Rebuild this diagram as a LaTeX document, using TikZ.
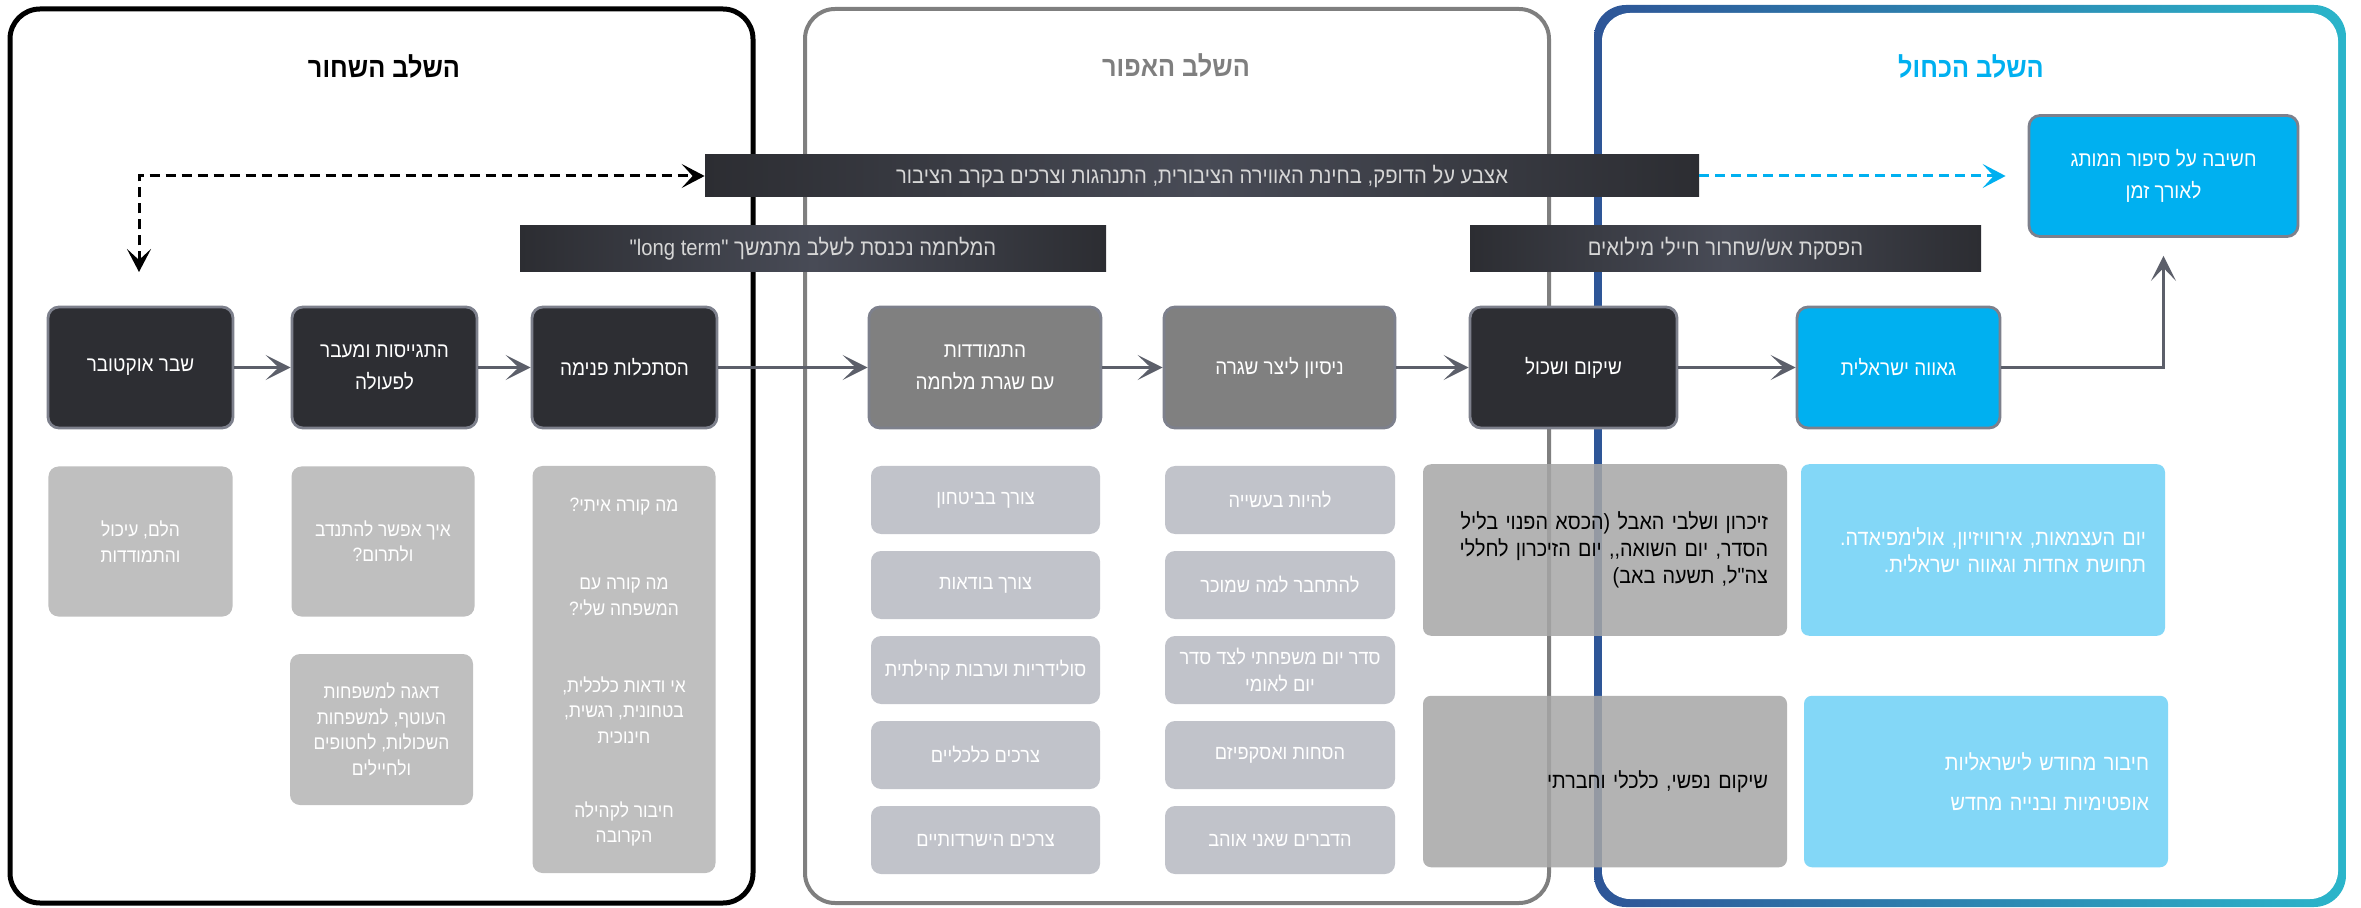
\documentclass[tikz,border=0pt]{standalone}
\usepackage{fontspec}
\usepackage{tikz}
\usetikzlibrary{arrows.meta}
\newfontfamily\hebfont[Script=Hebrew,FakeStretch=0.9]{Liberation Sans}
\TeXXeTstate=1
\newcommand{\heb}[1]{\beginR #1\endR}
\definecolor{nodedark}{HTML}{2D2E33}
\definecolor{nodegrey}{HTML}{808080}
\definecolor{nodeblue}{HTML}{00B0F0}
\definecolor{edgegrey}{HTML}{7D808C}
\definecolor{arrowgrey}{HTML}{5C5F6A}
\definecolor{subgrey}{HTML}{BFBFBF}
\definecolor{subslate}{HTML}{C1C3CA}
\definecolor{boxgrey}{HTML}{A6A6A6}
\definecolor{boxblue}{HTML}{83D7F7}
\definecolor{framegrey}{HTML}{7F7F7F}
\definecolor{frameblueA}{HTML}{2E5597}
\definecolor{frameblueB}{HTML}{2BB5CA}
\definecolor{bandark}{HTML}{2C2D32}
\definecolor{banmid}{HTML}{484B56}
\definecolor{bantext}{HTML}{D6D6D6}

\begin{document}
\begin{tikzpicture}[x=0.2mm, y=-0.2mm,
  >={Stealth[length=5mm,width=5mm,inset=2.6mm]},
  title/.style={font=\hebfont\bfseries\fontsize{16}{19}\selectfont},
  stage/.style={draw=edgegrey, line width=1.6pt, rounded corners=2.2mm, minimum height=24.2mm,
    text=white, align=center, font=\hebfont\fontsize{12}{18.5}\selectfont},
  banner/.style={left color=bandark, right color=bandark, middle color=banmid, text=bantext,
    font=\hebfont\fontsize{12.8}{15}\selectfont},
  sub/.style={fill=subgrey, rounded corners=2mm, text=white, align=center,
    font=\hebfont\fontsize{11}{14.5}\selectfont},
  subtext/.style={text=white, align=center, font=\hebfont\fontsize{11}{14.5}\selectfont},
  need/.style={fill=subslate, rounded corners=2mm, text=white, align=center,
    minimum height=13.6mm, font=\hebfont\fontsize{11.5}{15}\selectfont},
  bigbox/.style={rounded corners=1.6mm, align=right, inner xsep=3.8mm, text width=65.2mm,
    minimum height=34.3mm, font=\hebfont\fontsize{12.5}{15.2}\selectfont},
  flow/.style={->, line width=2.2pt, arrowgrey},
  dashline/.style={line width=0.6mm, dash pattern=on 2mm off 1.2mm,
    >={Stealth[length=4.6mm,width=4.8mm,inset=2.2mm]}}]
\useasboundingbox (0,0) rectangle (2361,908);

\draw[line width=1mm, rounded corners=6mm] (10,9) rectangle (753,903);
\draw[framegrey, line width=0.8mm, rounded corners=6mm] (805,9) rectangle (1549,903);
\shade[left color=frameblueA, right color=frameblueB, rounded corners=6.4mm] (1594,5) rectangle (2346,907);
\fill[white, rounded corners=5.6mm] (1602,13) rectangle (2338,899);

\node[title] (tblack) at (384,66) {\heb{השלב השחור}};
\node[title, text=framegrey] (tgrey) at (1176,65) {\heb{השלב האפור}};
\node[title, text=nodeblue] (tblue) at (1971,66) {\heb{השלב הכחול}};

\node[banner, minimum width=198.8mm, minimum height=8.4mm] (pulse) at (1202,176)
  {\heb{אצבע על הדופק, בחינת האווירה הציבורית, התנהגות וצרכים בקרב הציבור}};
\node[banner, minimum width=117.2mm, minimum height=9.2mm] (longterm) at (813,248.5)
  {\heb{המלחמה נכנסת לשלב מתמשך \beginL"long term"\endL}};
\node[banner, minimum width=102.2mm, minimum height=9.2mm] (ceasefire) at (1725.5,248.5)
  {\heb{הפסקת אש/שחרור חיילי מילואים}};

\node[stage, fill=nodedark, minimum width=37mm] (october) at (140.5,367.5) {\heb{שבר אוקטובר}};
\node[stage, fill=nodedark, minimum width=37mm] (enlist) at (384.5,367.5) {\heb{התגייסות ומעבר}\\\heb{לפעולה}};
\node[stage, fill=nodedark, minimum width=37mm] (inward) at (624.5,367.5) {\heb{הסתכלות פנימה}};
\node[stage, fill=nodegrey, minimum width=46.4mm] (cope) at (985,367.5) {\heb{התמודדות}\\\heb{עם שגרת מלחמה}};
\node[stage, fill=nodegrey, minimum width=46.2mm] (routine) at (1279.5,367.5) {\heb{ניסיון ליצר שגרה}};
\node[stage, fill=nodedark, minimum width=41.4mm] (rehab) at (1573.5,367.5) {\heb{שיקום ושכול}};
\node[stage, fill=nodeblue, minimum width=40.6mm] (pride) at (1898.5,367.5) {\heb{גאווה ישראלית}};
\node[stage, fill=nodeblue, minimum width=53.8mm] (brand) at (2163.5,176) {\heb{חשיבה על סיפור המותג}\\\heb{לאורך זמן}};

\draw[flow] (october) -- (enlist);
\draw[flow] (enlist) -- (inward);
\draw[flow] (inward) -- (cope);
\draw[flow] (cope) -- (routine);
\draw[flow] (routine) -- (rehab);
\draw[flow] (rehab) -- (pride);
\draw[flow] (pride.east) -| ([yshift=-3.6mm]brand.south);

\coordinate (drop) at (139,272);
\coordinate (blueend) at ([xshift=-4.4mm]brand.west);
\draw[dashline, <->] (drop) |- (pulse.west);
\draw[dashline, ->, nodeblue] (pulse.east) -- (blueend);

\node[sub, minimum width=36.8mm, minimum height=30mm] (shock) at (140.5,541.5) {\heb{הלם, עיכול}\\\heb{והתמודדות}};
\node[sub, minimum width=36.6mm, minimum height=30mm] (volunteer) at (383,541.5) {\heb{איך אפשר להתנדב}\\\heb{ולתרום?}};
\node[sub, minimum width=36.6mm, minimum height=30.2mm] (worry) at (381.5,729.5)
  {\heb{דאגה למשפחות}\\\heb{העוטף, למשפחות}\\\heb{השכולות, לחטופים}\\\heb{ולחיילים}};
\node[sub, minimum width=36.6mm, minimum height=81.4mm] (questions) at (624,669.5) {};
\node[subtext] (qme) at (624,507) {\heb{מה קורה איתי?}};
\node[subtext] (qfamily) at (624,597) {\heb{מה קורה עם}\\\heb{המשפחה שלי?}};
\node[subtext] (qdoubt) at (624,710) {\heb{אי ודאות כלכלית,}\\\heb{בטחונית, רגשית,}\\\heb{חינוכית}};
\node[subtext] (qcommunity) at (624,824) {\heb{חיבור לקהילה}\\\heb{הקרובה}};

\node[need, minimum width=45.8mm] (security) at (985.5,500) {\heb{צורך בביטחון}};
\node[need, minimum width=45.8mm] (certainty) at (985.5,585) {\heb{צורך בודאות}};
\node[need, minimum width=45.8mm] (solidarity) at (985.5,670) {\heb{סולידריות וערבות קהילתית}};
\node[need, minimum width=45.8mm] (economic) at (985.5,755) {\heb{צרכים כלכליים}};
\node[need, minimum width=45.8mm] (survival) at (985.5,840) {\heb{צרכים הישרדותיים}};
\node[need, minimum width=46mm] (doing) at (1280,500) {\heb{להיות בעשייה}};
\node[need, minimum width=46mm] (familiar) at (1280,585) {\heb{להתחבר למה שמוכר}};
\node[need, minimum width=46mm] (agenda) at (1280,670) {\heb{סדר יום משפחתי לצד סדר}\\\heb{יום לאומי}};
\node[need, minimum width=46mm] (escape) at (1280,755) {\heb{הסחות ואסקפיזם}};
\node[need, minimum width=46mm] (loves) at (1280,840) {\heb{הדברים שאני אוהב}};

\node[bigbox, fill=boxgrey, fill opacity=0.85, text opacity=1, text=black] (memory) at (1605,550)
  {\heb{זיכרון ושלבי האבל (הכסא הפנוי בליל}\\\heb{הסדר, יום השואה,, יום הזיכרון לחללי}\\\heb{צה"ל, תשעה באב)}};
\node[bigbox, fill=boxgrey, fill opacity=0.85, text opacity=1, text=black] (recovery) at (1605,781.5)
  {\heb{שיקום נפשי, כלכלי וחברתי}};
\node[bigbox, fill=boxblue, text=white] (unity) at (1983,550)
  {\heb{יום העצמאות, אירוויזיון, אולימפיאדה.}\\\heb{תחושת אחדות וגאווה ישראלית.}};
\node[bigbox, fill=boxblue, text=white, font=\hebfont\fontsize{12.5}{22.7}\selectfont] (renewal) at (1986,781.5)
  {\heb{חיבור מחודש לישראליות}\\\heb{אופטימיות ובנייה מחדש}};
\end{tikzpicture}
\end{document}
